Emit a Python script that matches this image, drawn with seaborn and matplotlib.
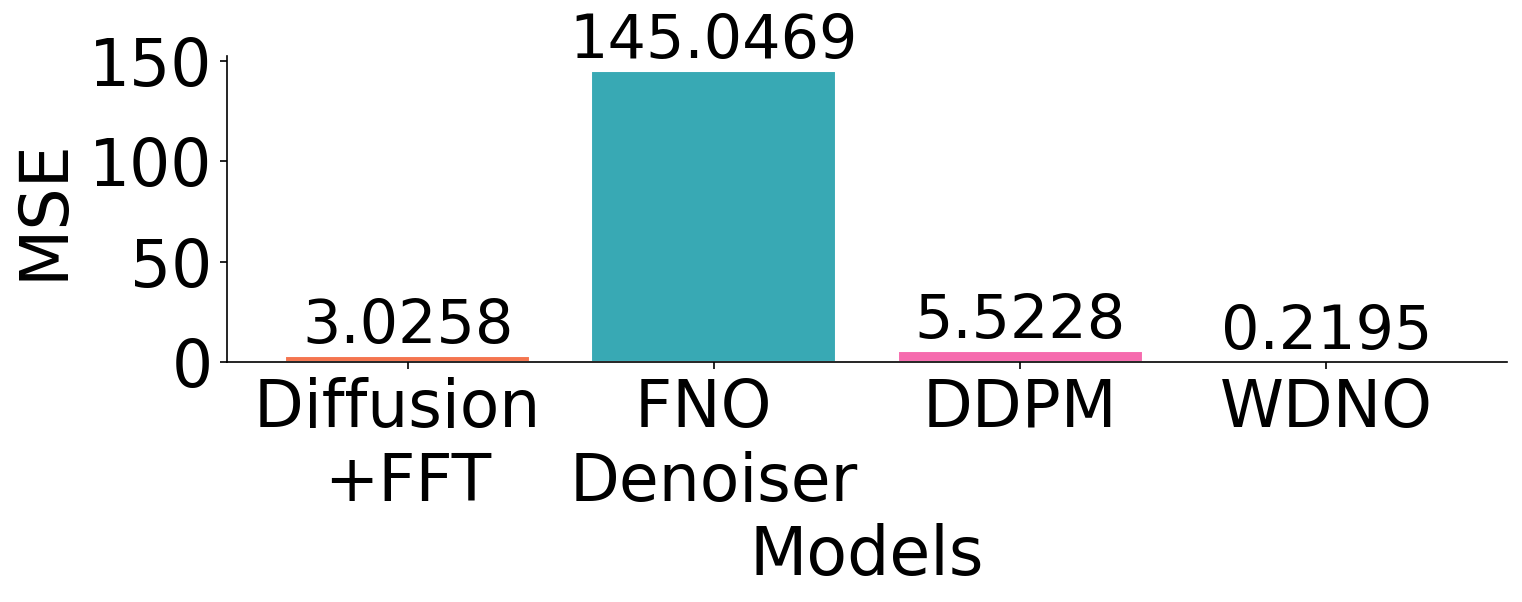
import matplotlib
matplotlib.use("Agg")
import matplotlib.pyplot as plt
from matplotlib.ticker import MultipleLocator
import seaborn as sns
import pandas as pd

models = ["Diffusion \n+FFT", "FNO \nDenoiser", "DDPM", "WDNO"]
mse = [3.0258, 145.0469, 5.5228, 0.2195]
colors = ["#F4754F", "#38A9B4", "#F66BAE", "#8E7CC3"]

df = pd.DataFrame({"Models": models, "MSE": mse})

sns.set_style("ticks", rc={
    "text.color": "black", "axes.labelcolor": "black",
    "xtick.color": "black", "ytick.color": "black",
    "axes.edgecolor": "black",
})
plt.rcParams["font.family"] = ["DejaVu Sans"]

fig = plt.figure(figsize=(1522 / 150, 602 / 150), dpi=150)
ax = fig.add_axes([227 / 1522, 1 - 362 / 602, (1507 - 227) / 1522, (362 - 56) / 602])

sns.barplot(data=df, x="Models", y="MSE", hue="Models", palette=colors,
            legend=False, width=0.8, saturation=1, ax=ax)

n = len(models)
ax.set_xlim(-0.4 - 0.05 * (n - 0.2), n - 1 + 0.4 + 0.05 * (n - 0.2))
ax.set_ylim(0, max(mse) * 1.05)
ax.yaxis.set_major_locator(MultipleLocator(50))

for i, v in enumerate(mse):
    ax.text(i, v, f"{v:.4f}", ha="center", va="bottom", fontsize=29, color="black")

ax.set_xlabel("Models", fontsize=32)
ax.set_ylabel("MSE", fontsize=32, labelpad=6)
ax.tick_params(axis="both", labelsize=31, length=3.5, width=0.8, colors="black")
for s in ["left", "bottom"]:
    ax.spines[s].set_linewidth(0.8)
    ax.spines[s].set_color("black")
sns.despine(ax=ax)

fig.savefig("out.png", dpi=150)
